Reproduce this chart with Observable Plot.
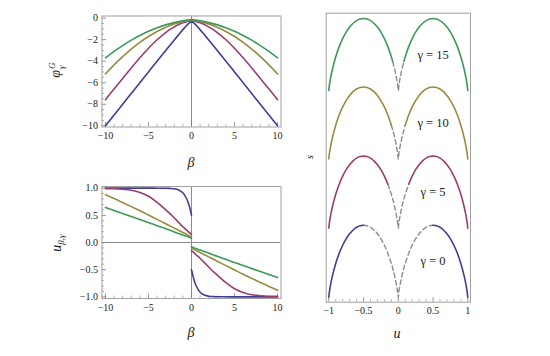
<!DOCTYPE html>
<html><head><meta charset="utf-8">
<script src="https://cdn.jsdelivr.net/npm/d3@7"></script>
<script src="https://cdn.jsdelivr.net/npm/@observablehq/plot@0.6"></script>
<style>
body{margin:0;background:#fff;}
#root{position:relative;width:550px;height:356px;overflow:hidden;font-family:"Liberation Serif","Times New Roman",serif;}
#root svg{position:absolute;overflow:visible;}
.lab{position:absolute;font-family:"Liberation Serif","Times New Roman",serif;color:#222;white-space:nowrap;line-height:1;}
</style></head><body><div id="root"></div>
<script>
// ---- data ----
const names = ["γ = 0", "γ = 5", "γ = 10", "γ = 15"];
const colors = ["#3f3d99", "#993d71", "#998b3d", "#3d9956"];

// top-left: phi^G_gamma(beta)
const betaGrid = [-10,-9,-8,-7,-6,-5,-4,-3,-2.5,-2,-1.5,-1,-0.5,-0.25,0,0.25,0.5,1,1.5,2,2.5,3,4,5,6,7,8,9,10];
const phiG0  = [-10,-9,-8,-7,-6,-5,-4,-3.01,-2.51,-2.03,-1.55,-1.07,-0.63,-0.45,-0.30,-0.45,-0.63,-1.07,-1.55,-2.03,-2.51,-3.01,-4,-5,-6,-7,-8,-9,-10];
const phiG5  = [-7.57,-6.58,-5.60,-4.63,-3.69,-2.80,-2.01,-1.34,-1.05,-0.81,-0.60,-0.44,-0.31,-0.26,-0.22,-0.26,-0.31,-0.44,-0.60,-0.81,-1.05,-1.34,-2.01,-2.80,-3.69,-4.63,-5.60,-6.58,-7.57];
const phiG10 = [-5.19,-4.34,-3.57,-2.87,-2.25,-1.71,-1.24,-0.86,-0.69,-0.55,-0.43,-0.33,-0.24,-0.21,-0.18,-0.21,-0.24,-0.33,-0.43,-0.55,-0.69,-0.86,-1.24,-1.71,-2.25,-2.87,-3.57,-4.34,-5.19];
const phiG15 = [-3.69,-3.09,-2.55,-2.05,-1.62,-1.23,-0.90,-0.63,-0.52,-0.42,-0.33,-0.25,-0.19,-0.16,-0.14,-0.16,-0.19,-0.25,-0.33,-0.42,-0.52,-0.63,-0.90,-1.23,-1.62,-2.05,-2.55,-3.09,-3.69];

// bottom-left: u_{beta,gamma}, two branches
const betaLeft  = [-10,-9,-8,-7,-6,-5,-4,-3,-2.5,-2,-1.5,-1,-0.5,-0.25,0];
const betaRight = [0,0.25,0.5,1,1.5,2,2.5,3,4,5,6,7,8,9,10];
const uLeft0  = [1,1,1,1,1,1,0.999,0.998,0.995,0.988,0.967,0.914,0.782,0.664,0.50];
const uRight0 = [-0.50,-0.664,-0.782,-0.914,-0.967,-0.988,-0.995,-0.998,-0.999,-1,-1,-1,-1,-1,-1];
const uLeft5  = [0.99,0.99,0.98,0.96,0.92,0.85,0.74,0.60,0.53,0.45,0.37,0.29,0.22,0.18,0.15];
const uRight5 = [-0.15,-0.18,-0.22,-0.29,-0.37,-0.45,-0.53,-0.60,-0.74,-0.85,-0.92,-0.96,-0.98,-0.99,-0.99];
const uLeft10  = [0.88,0.81,0.735,0.66,0.585,0.505,0.425,0.345,0.305,0.265,0.225,0.185,0.145,0.125,0.105];
const uRight10 = [-0.105,-0.125,-0.145,-0.185,-0.225,-0.265,-0.305,-0.345,-0.425,-0.505,-0.585,-0.66,-0.735,-0.81,-0.88];
const uLeft15  = [0.645,0.59,0.535,0.48,0.425,0.37,0.31,0.255,0.225,0.195,0.165,0.14,0.11,0.095,0.08];
const uRight15 = [-0.08,-0.095,-0.11,-0.14,-0.165,-0.195,-0.225,-0.255,-0.31,-0.37,-0.425,-0.48,-0.535,-0.59,-0.645];

// right: s(u) curves, stacked
const uGrid  = [-1,-0.99,-0.975,-0.95,-0.9,-0.85,-0.8,-0.75,-0.7,-0.65,-0.6,-0.55,-0.5,-0.45,-0.4,-0.35,-0.3,-0.25,-0.2,-0.15,-0.1,-0.08,-0.05,-0.025,-0.01,0,
                0.01,0.025,0.05,0.08,0.1,0.15,0.2,0.25,0.3,0.35,0.4,0.45,0.5,0.55,0.6,0.65,0.7,0.75,0.8,0.85,0.9,0.95,0.975,0.99,1];
const sShape = [0,0.081,0.169,0.286,0.469,0.610,0.722,0.811,0.881,0.934,0.971,0.993,1,0.993,0.971,0.934,0.881,0.811,0.722,0.610,0.469,0.402,0.286,0.169,0.081,0,
                0.081,0.169,0.286,0.402,0.469,0.610,0.722,0.811,0.881,0.934,0.971,0.993,1,0.993,0.971,0.934,0.881,0.811,0.722,0.610,0.469,0.286,0.169,0.081,0];
const sOffset = [0, 0.96, 1.92, 2.87];
const uStar = [0.5, 0.15, 0.10, 0.08];

// ticks
const betaTicks = [-10,-5,0,5,10];
const phiTicks = [0,-2,-4,-6,-8,-10];
const uTicks = [-1,-0.5,0,0.5,1];
const uAxisTicks = [-1,-0.5,0,0.5,1];

// ---- build tables ----
const phiArrays = [phiG0, phiG5, phiG10, phiG15];
const phiRows = phiArrays.flatMap((arr, i) => arr.map((v, j) => ({beta: betaGrid[j], phi: v, series: names[i]})));
const uL = [uLeft0, uLeft5, uLeft10, uLeft15], uR = [uRight0, uRight5, uRight10, uRight15];
const uRows = [];
names.forEach((n, i) => {
  uL[i].forEach((v, j) => uRows.push({beta: betaLeft[j], u: v, series: n, key: n + "L"}));
  uR[i].forEach((v, j) => uRows.push({beta: betaRight[j], u: v, series: n, key: n + "R"}));
});
const sRows = [];
names.forEach((n, i) => {
  uGrid.forEach((u, j) => sRows.push({u, s: sShape[j] + sOffset[i], series: n, side: u < 0 ? "L" : "R",
    solid: Math.abs(u) >= uStar[i] - 1e-9, dashed: Math.abs(u) <= uStar[i] + 1e-9}));
});
const labelRows = names.map((n, i) => ({name: n, off: sOffset[i]}));

// ---- helpers ----
const minus = v => (v < 0 ? "\u2212" : "") + Math.abs(v);
const minus1 = v => (v < 0 ? "\u2212" : "") + Math.abs(v).toFixed(1);
const tickCol = "#7a7a7a", frameCol = "#a0a0a0";
const serif = "'Liberation Serif', 'Times New Roman', serif";
const TF = 10;
function xTicks(major, minor, innerH) {
  return [
    Plot.tickX(major, {x: d => d, insetTop: innerH - 4.5, stroke: tickCol, strokeWidth: 0.8}),
    Plot.tickX(minor, {x: d => d, insetTop: innerH - 2.5, stroke: tickCol, strokeWidth: 0.6})
  ];
}
function yTicks(major, minor, innerW) {
  return [
    Plot.tickY(major, {y: d => d, insetRight: innerW - 4.5, stroke: tickCol, strokeWidth: 0.8}),
    Plot.tickY(minor, {y: d => d, insetRight: innerW - 2.5, stroke: tickCol, strokeWidth: 0.6})
  ];
}
const style = {fontFamily: serif, fontSize: TF + "px", color: "#222", background: "transparent", overflow: "visible"};
const root = document.getElementById("root");
function place(svg, left, top) { svg.style.left = left + "px"; svg.style.top = top + "px"; root.appendChild(svg); }
function label(html, cx, cy, size, rot) {
  const d = document.createElement("div");
  d.className = "lab";
  d.innerHTML = html;
  d.style.left = cx + "px"; d.style.top = cy + "px"; d.style.fontSize = size + "px";
  d.style.transform = "translate(-50%,-50%)" + (rot ? " rotate(" + rot + "deg)" : "");
  root.appendChild(d);
}

// ---- panel 1 ----
{
  const W = 285, H = 170, mL = 101.5, mR = W - 280.5, mT = 15.5, mB = H - 126.5;
  const iW = W - mL - mR, iH = H - mT - mB;
  const betaMinor = d3.range(-10, 10.01, 1).filter(v => v % 5 !== 0);
  const phiMinor = d3.range(-10, 0.01, 0.5).filter(v => v % 2 !== 0);
  const p = Plot.plot({
    width: W, height: H, marginLeft: mL, marginRight: mR, marginTop: mT, marginBottom: mB,
    x: {domain: [-10.4, 10.4]}, y: {domain: [-10.11, 0.195]},
    color: {domain: names, range: colors},
    style,
    marks: [
      Plot.ruleX([0], {stroke: "#8a8a8a", strokeWidth: 1}),
      ...xTicks(betaTicks, betaMinor, iH),
      ...yTicks(phiTicks, phiMinor, iW),
      Plot.frame({stroke: frameCol, strokeWidth: 1}),
      Plot.line(phiRows, {x: "beta", y: "phi", z: "series", stroke: "series", strokeWidth: 1.6, curve: "catmull-rom"}),
      Plot.axisX({ticks: betaTicks, tickSize: 0, tickPadding: 5, tickFormat: minus, label: null, fontSize: TF}),
      Plot.axisY({ticks: phiTicks, tickSize: 0, tickPadding: 4, tickFormat: minus, label: null, fontSize: TF})
    ]
  });
  place(p, 0, 0);
}
// ---- panel 2 ----
{
  const W = 285, H = 186, mL = 101.5, mR = W - 280.5, mT = 16, mB = 58;
  const iW = W - mL - mR, iH = H - mT - mB;
  const betaMinor = d3.range(-10, 10.01, 1).filter(v => v % 5 !== 0);
  const uMinor = d3.range(-10, 10.01, 1).filter(v => v % 5 !== 0).map(v => v / 10);
  const p = Plot.plot({
    width: W, height: H, marginLeft: mL, marginRight: mR, marginTop: mT, marginBottom: mB,
    x: {domain: [-10.4, 10.4]}, y: {domain: [-1.03, 1.03]},
    color: {domain: names, range: colors},
    style,
    marks: [
      Plot.ruleX([0], {stroke: "#8a8a8a", strokeWidth: 1}),
      Plot.ruleY([0], {stroke: "#8a8a8a", strokeWidth: 1}),
      ...xTicks(betaTicks, betaMinor, iH),
      ...yTicks(uTicks, uMinor, iW),
      Plot.frame({stroke: frameCol, strokeWidth: 1}),
      Plot.line(uRows, {x: "beta", y: "u", z: "key", stroke: "series", strokeWidth: 1.6, curve: "catmull-rom"}),
      Plot.axisX({ticks: betaTicks, tickSize: 0, tickPadding: 5, tickFormat: minus, label: null, fontSize: TF}),
      Plot.axisY({ticks: uTicks, tickSize: 0, tickPadding: 4, tickFormat: minus1, label: null, fontSize: TF})
    ]
  });
  place(p, 0, 170);
}
// ---- panel 3 ----
{
  const L = 290, W = 260, H = 356, mL = 325.7 - L, mR = L + W - 470, mT = 12.7, mB = H - 301.7;
  const iH = H - mT - mB;
  const uMinor = d3.range(-10, 10.01, 1).filter(v => v % 5 !== 0).map(v => v / 10);
  const p = Plot.plot({
    width: W, height: H, marginLeft: mL, marginRight: mR, marginTop: mT, marginBottom: mB,
    x: {domain: [-1.037, 1.039]}, y: {domain: [-0.069, 3.944]},
    color: {domain: names, range: colors},
    style,
    marks: [
      ...xTicks(uAxisTicks, uMinor, iH),
      Plot.frame({stroke: frameCol, strokeWidth: 1}),
      Plot.line(sRows.filter(d => d.dashed), {x: "u", y: "s", z: "series", stroke: "#8c8c8c", strokeWidth: 1.4, strokeDasharray: "4.5,3", curve: "catmull-rom"}),
      Plot.line(sRows.filter(d => d.solid), {x: "u", y: "s", z: d => d.series + d.side, stroke: "series", strokeWidth: 1.6, curve: "catmull-rom"}),
      Plot.text(labelRows, {x: () => 0.5, y: d => d.off + 0.5, text: "name", fontSize: 12.5, fill: "#222"}),
      Plot.axisX({ticks: uAxisTicks, tickSize: 0, tickPadding: 5, tickFormat: minus, label: null, fontSize: TF}),
      Plot.axisY({ticks: [], label: null})
    ]
  });
  place(p, L, 0);
}
// ---- axis titles ----
label("<i>β</i>", 191, 163, 14, 0);
label("<i>β</i>", 191, 333, 14, 0);
label("<i>u</i>", 397, 334, 14, 0);
label("<i>s</i>", 310, 157, 10, -90);
label('<i>φ</i><span style="display:inline-flex;flex-direction:column;vertical-align:middle;font-size:9px;line-height:0.95;margin-left:1px"><i>G</i><i>γ</i></span>', 57, 70, 14, -90);
label('<i>u</i><sub style="font-size:9px;vertical-align:-3px"><i>β</i>,<i>γ</i></sub>', 58, 243, 14, -90);
</script></body></html>
